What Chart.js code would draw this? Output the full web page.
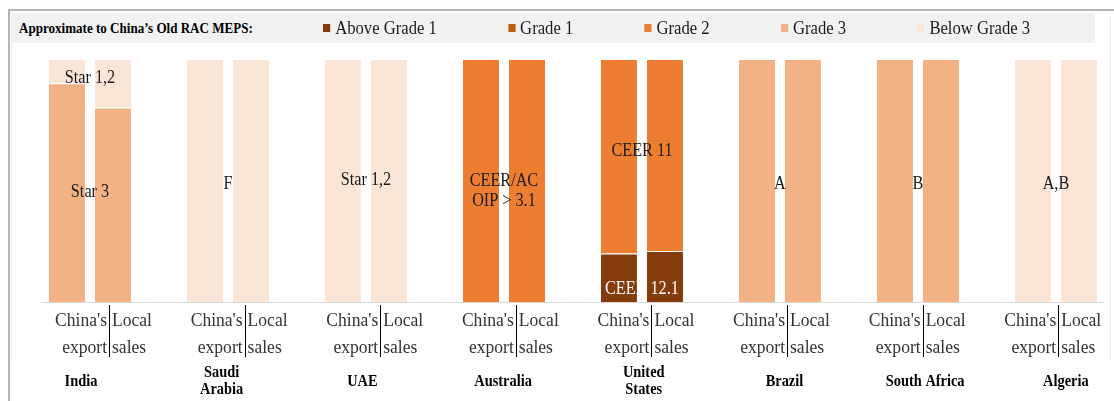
<!DOCTYPE html>
<html>
<head>
<meta charset="utf-8">
<script src="https://cdn.jsdelivr.net/npm/chart.js@4/dist/chart.umd.min.js"></script>
<style>
  body { margin: 0; background: #ffffff; }
  #wrap { position: relative; width: 1114px; height: 401px; overflow: hidden; font-family: "Liberation Serif", "Times New Roman", serif; }
  #box { position: absolute; left: 0; top: 0; width: 1114px; height: 401px; }
  .frame { position: absolute; left: 8px; top: 9px; width: 1106px; height: 392px; border-left: 2px solid #b5b5b5; border-top: 2px solid #b5b5b5; box-sizing: border-box; }
  .inner { position: absolute; left: 11px; top: 12px; width: 1100px; height: 347px; border-left: 1px solid #ececec; border-right: 1px solid #ececec; box-sizing: border-box; }
  #legend { position: absolute; left: 11px; top: 13px; width: 1084px; height: 30px; background: #f2f2f2; }
  #legend .ttl { position: absolute; left: 8px; top: 0; line-height: 30px; font-weight: bold; font-size: 14.5px; color: #000; transform: scaleX(0.9); transform-origin: left center; white-space: nowrap; }
  #items { position: absolute; left: 312px; top: 0; height: 30px; display: flex; align-items: center; transform: scaleX(0.9); transform-origin: left center; }
  .item { display: flex; align-items: center; margin-right: 79px; font-size: 18.5px; color: #1a1a1a; white-space: nowrap; }
  .sq { display: inline-block; width: 8px; height: 8px; margin-right: 5.5px; }
</style>
</head>
<body>
<div id="wrap">
  <div id="box"><canvas id="grafik"></canvas></div>
  <div class="frame"></div>
  <div class="inner"></div>
  <div id="legend"><span class="ttl">Approximate to China’s Old RAC MEPS:</span><div id="items"></div></div>
</div>
<script>
const countries = ["India", "Saudi Arabia", "UAE", "Australia", "United States", "Brazil", "South Africa", "Algeria"];
const countryLines = [["India"], ["Saudi", "Arabia"], ["UAE"], ["Australia"], ["United", "States"], ["Brazil"], ["South Africa"], ["Algeria"]];
const grades = ["Above Grade 1", "Grade 1", "Grade 2", "Grade 3", "Below Grade 3"];
const gradeColors = ["#843c0c", "#c55a11", "#ed7d31", "#f4b183", "#fbe5d6"];

// share of models (%) in each grade, China's export vs local sales
const exportAboveG1 = [0, 0, 0, 0, 20, 0, 0, 0];
const exportG1 = [0, 0, 0, 0, 0, 0, 0, 0];
const exportG2 = [0, 0, 0, 100, 80, 0, 0, 0];
const exportG3 = [90, 0, 0, 0, 0, 100, 100, 0];
const exportBelowG3 = [10, 100, 100, 0, 0, 0, 0, 100];

const localAboveG1 = [0, 0, 0, 0, 21, 0, 0, 0];
const localG1 = [0, 0, 0, 0, 0, 0, 0, 0];
const localG2 = [0, 0, 0, 100, 79, 0, 0, 0];
const localG3 = [80, 0, 0, 0, 0, 100, 100, 0];
const localBelowG3 = [20, 100, 100, 0, 0, 0, 0, 100];

const sideTop = ["China's", "Local"];
const sideBottom = ["export", "sales"];

// standard names written on the bars
const noteCountry = [0, 0, 1, 2, 3, 3, 4, 4, 5, 6, 7];
const noteText = ["Star 1,2", "Star 3", "F", "Star 1,2", "CEER/AC", "OIP > 3.1", "CEER 11", "CEER 12.1", "A", "B", "A,B"];
const noteLevel = [92, 45, 48.5, 50, 49.5, 41.5, 62, 5.3, 48.5, 48.5, 48.5];

const exportSeries = [exportAboveG1, exportG1, exportG2, exportG3, exportBelowG3];
const localSeries = [localAboveG1, localG1, localG2, localG3, localBelowG3];

// legend
const items = document.getElementById("items");
grades.forEach((g, i) => {
  const it = document.createElement("div");
  it.className = "item";
  it.innerHTML = '<span class="sq" style="background:' + gradeColors[i] + '"></span>' + g;
  items.appendChild(it);
});

function toPoints(arr) {
  return arr.map((v, i) => ({ x: i, y: v === 0 ? null : v }));
}

const datasets = [];
exportSeries.forEach((arr, k) => {
  datasets.push({ label: grades[k], stack: "export", data: toPoints(arr), backgroundColor: gradeColors[k] });
});
localSeries.forEach((arr, k) => {
  datasets.push({ label: grades[k], stack: "local", data: toPoints(arr), backgroundColor: gradeColors[k] });
});

const SERIF = "'Liberation Serif', 'Times New Roman', serif";

// the source uses a narrow Times, so squeeze the text a little
function txt(ctx, s, x, y, align) {
  ctx.save();
  ctx.translate(x, y);
  ctx.scale(0.9, 1);
  ctx.textAlign = align;
  ctx.fillText(s, 0, 0);
  ctx.restore();
}

const labelPlugin = {
  id: "barLabels",
  afterDatasetsDraw(chart) {
    const { ctx, chartArea } = chart;
    const x = chart.scales.x, y = chart.scales.y, xs = chart.scales.xs, xc = chart.scales.xc;
    ctx.save();
    ctx.textBaseline = "middle";
    ctx.font = "18px " + SERIF;
    noteText.forEach((t, k) => {
      const i = noteCountry[k];
      const dark = noteLevel[k] < Math.max(exportAboveG1[i], localAboveG1[i]);
      ctx.fillStyle = dark ? "#ffffff" : "#1a1a1a";
      txt(ctx, t, x.getPixelForValue(i), y.getPixelForValue(noteLevel[k]), "center");
    });

    const b = chartArea.bottom;
    countries.forEach((c, i) => {
      const sx = xs.getPixelForValue(i);
      ctx.font = "19.5px " + SERIF;
      ctx.fillStyle = "#333333";
      txt(ctx, sideTop[0], sx - 2, b + 19, "right");
      txt(ctx, sideBottom[0], sx - 2, b + 46, "right");
      txt(ctx, sideTop[1], sx + 3, b + 19, "left");
      txt(ctx, sideBottom[1], sx + 3, b + 46, "left");
      ctx.strokeStyle = "#000000";
      ctx.lineWidth = 1;
      ctx.beginPath();
      ctx.moveTo(Math.round(sx) + 0.5, b + 3);
      ctx.lineTo(Math.round(sx) + 0.5, b + 55);
      ctx.stroke();

      ctx.font = "bold 16px " + SERIF;
      ctx.fillStyle = "#000000";
      const lines = countryLines[i];
      const cx = xc.getPixelForValue(i);
      if (lines.length === 1) {
        txt(ctx, lines[0], cx, b + 80, "center");
      } else {
        txt(ctx, lines[0], cx, b + 71, "center");
        txt(ctx, lines[1], cx, b + 88, "center");
      }
    });
    ctx.restore();
  }
};

new Chart(document.getElementById("grafik"), {
  type: "bar",
  data: { datasets: datasets },
  options: {
    responsive: true,
    maintainAspectRatio: false,
    animation: false,
    categoryPercentage: 0.6667,
    barPercentage: 0.7826,
    borderColor: "#ffffff",
    borderWidth: { top: 1, left: 0, right: 0, bottom: 0 },
    borderSkipped: false,
    layout: { padding: { left: 41, right: 11, top: 59, bottom: 99 } },
    plugins: {
      legend: { display: false },
      tooltip: { enabled: false }
    },
    scales: {
      x: {
        type: "linear",
        offset: false,
        min: -0.355,
        max: 7.341,
        stacked: true,
        grid: { display: false, drawTicks: false, offset: false },
        ticks: { display: false, stepSize: 1, includeBounds: false },
        border: { display: true, color: "#d9d9d9", width: 1 }
      },
      xs: { type: "linear", display: false, offset: false, grid: { offset: false }, min: -0.5015, max: 7.33 },
      xc: { type: "linear", display: false, offset: false, grid: { offset: false }, min: -0.284, max: 7.264 },
      y: { display: false, min: 0, max: 100, stacked: true }
    }
  },
  plugins: [labelPlugin]
});
</script>
</body>
</html>
